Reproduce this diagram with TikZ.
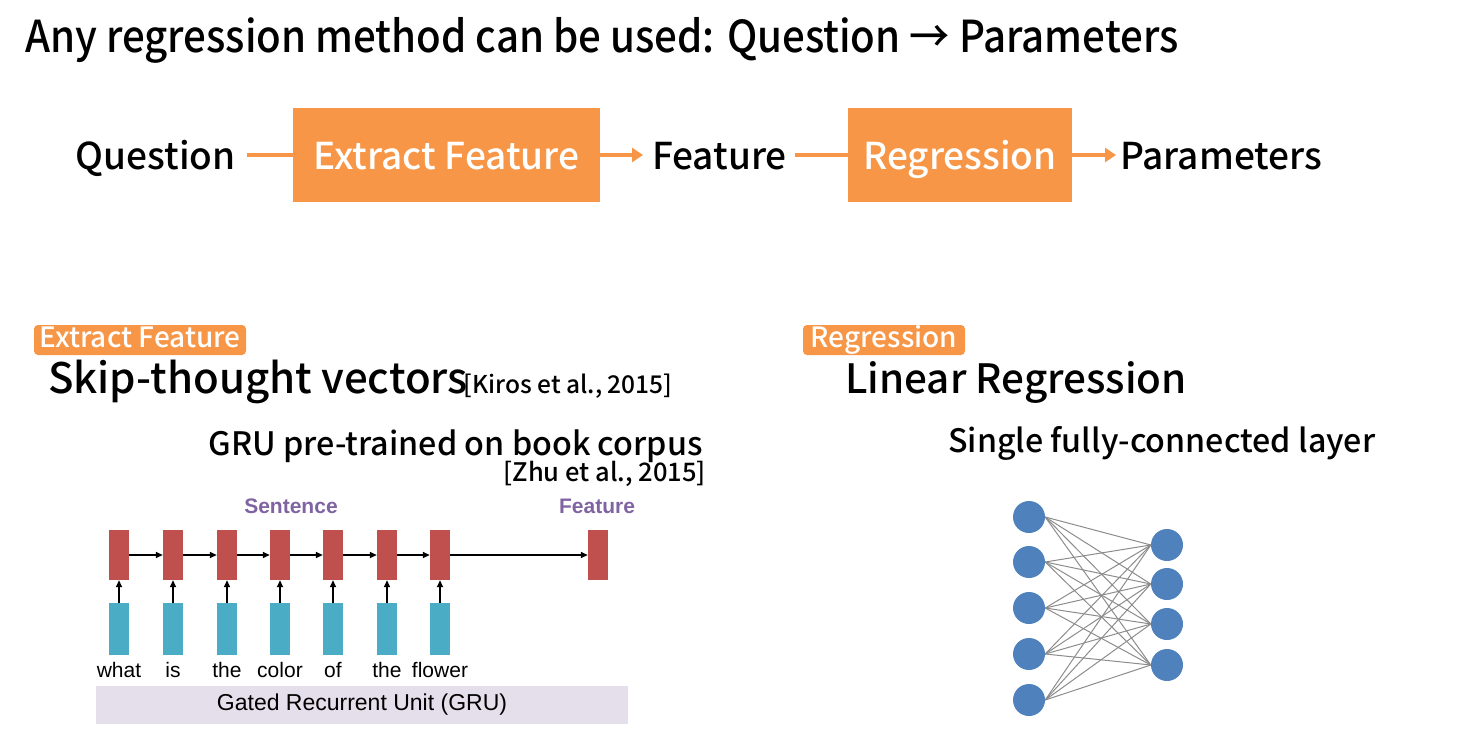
\documentclass[tikz,border=0pt]{standalone}
\usepackage{fontspec}
\setmainfont{Noto Sans CJK KR Medium}
\newfontfamily\arialf{Liberation Sans}
\usetikzlibrary{arrows.meta}
\definecolor{orng}{HTML}{F79646}
\definecolor{redb}{HTML}{C0504D}
\definecolor{blueb}{HTML}{4BACC6}
\definecolor{purp}{HTML}{8064A2}
\definecolor{lav}{HTML}{E5DFEC}
\definecolor{nodeb}{HTML}{4F81BD}
\newcommand{\fs}[1]{\fontsize{#1}{#1}\selectfont}
\tikzset{
  obox/.style={fill=orng,text=white,inner sep=0pt,minimum height=94pt,font=\fs{37},text height=30pt,text depth=2pt},
  plain/.style={inner sep=0pt,font=\fs{37},text height=30pt,text depth=2pt},
  oarrow/.style={draw=orng,line width=4pt},
  tag/.style={fill=orng,text=white,rounded corners=4pt,inner sep=0pt,minimum height=30pt,font=\fs{28},text height=21pt,text depth=6pt},
  redbox/.style={fill=redb,minimum width=20pt,minimum height=50pt,inner sep=0pt},
  bluebox/.style={fill=blueb,minimum width=20pt,minimum height=52pt,inner sep=0pt},
  barrow/.style={draw=black,line width=1.6pt,-{Triangle[length=7pt,width=6pt]}},
  word/.style={font=\arialf\fs{21},inner sep=0pt},
  purplab/.style={font=\arialf\bfseries\fs{21},text=purp,inner sep=0pt},
  neuron/.style={circle,fill=nodeb,minimum size=32pt,inner sep=0pt},
  edge/.style={draw=gray!90,line width=1pt},
}
\begin{document}
\begin{tikzpicture}[x=1pt,y=-1pt]
\useasboundingbox (0,0) rectangle (1468,734);
% title
\node[anchor=base west,inner sep=0pt,font=\fs{44}] (title) at (25,52) {\scalebox{0.914}[1]{Any regression method can be used: Question → Parameters}};
% pipeline
\node[plain,anchor=east] (q) at (236,155) {Question};
\node[obox,minimum width=307pt] (ef) at (446.5,155) {Extract Feature};
\node[plain,anchor=west] (f) at (652,155) {Feature};
\node[obox,minimum width=224pt] (rg) at (960,155) {Regression};
\node[plain,anchor=west] (p) at (1120,155) {Parameters};
\coordinate (qe) at (247,155);
\coordinate (fw) at (643,155);
\coordinate (fe) at (795,155);
\coordinate (pw) at (1116,155);
\draw[oarrow] (qe) -- (ef.west);
\draw[oarrow,-{Triangle[length=11pt,width=14pt]}] (ef.east) -- (fw);
\draw[oarrow] (fe) -- (rg.west);
\draw[oarrow,-{Triangle[length=11pt,width=14pt]}] (rg.east) -- (pw);
% left section
\node[tag,minimum width=212pt] (tag1) at (140,340) {Extract Feature};
\node[anchor=base west,inner sep=0pt,font=\fs{42}] (skip) at (48,393) {Skip-thought vectors};
\node[anchor=base west,inner sep=0pt,font=\fs{24.5},xshift=-5pt] (kiros) at (skip.base east) {[Kiros et al., 2015]};
\node[anchor=base east,inner sep=0pt,font=\fs{32.3}] (gru) at (703,455) {GRU pre-trained on book corpus};
\node[anchor=base east,inner sep=0pt,font=\fs{25.5}] (zhu) at (706,481) {[Zhu et al., 2015]};
\node[purplab] (sent) at (291,506) {Sentence};
\node[purplab] (featl) at (597,506) {Feature};
\node[fill=lav,minimum width=532pt,minimum height=38pt,inner sep=0pt] (bar) at (362,705) {};
\node[word,font=\arialf\fs{23}] at (bar.center) {Gated Recurrent Unit (GRU)};
\foreach \i/\x/\w in {1/119/what,2/173/is,3/227/the,4/280/color,5/333/of,6/387/the,7/440/flower}{
  \node[redbox] (r\i) at (\x,555) {};
  \node[bluebox] (b\i) at (\x,629) {};
  \node[word,anchor=base] (w\i) at (\x,677) {\w};
  \draw[barrow] (b\i.north) -- (r\i.south);
}
\node[redbox] (r8) at (598,555) {};
\foreach \a/\b in {1/2,2/3,3/4,4/5,5/6,6/7,7/8}{
  \draw[barrow] (r\a.east) -- (r\b.west);
}
% right section
\node[tag,minimum width=162pt] (tag2) at (884,340) {Regression};
\node[anchor=base west,inner sep=0pt,font=\fs{40.4}] (linreg) at (845,393) {Linear Regression};
\node[anchor=base west,inner sep=0pt,font=\fs{32.2}] (sfc) at (948,452) {Single fully-connected layer};
\foreach \i/\y in {1/517,2/562,3/608,4/654,5/700}{
  \node[neuron] (L\i) at (1029,\y) {};
}
\foreach \j/\y in {1/545,2/584,3/624,4/665}{
  \node[neuron] (R\j) at (1167,\y) {};
}
\foreach \i in {1,...,5}{
  \foreach \j in {1,...,4}{
    \draw[edge] (L\i.east) -- (R\j.west);
  }
}
\end{tikzpicture}
\end{document}
